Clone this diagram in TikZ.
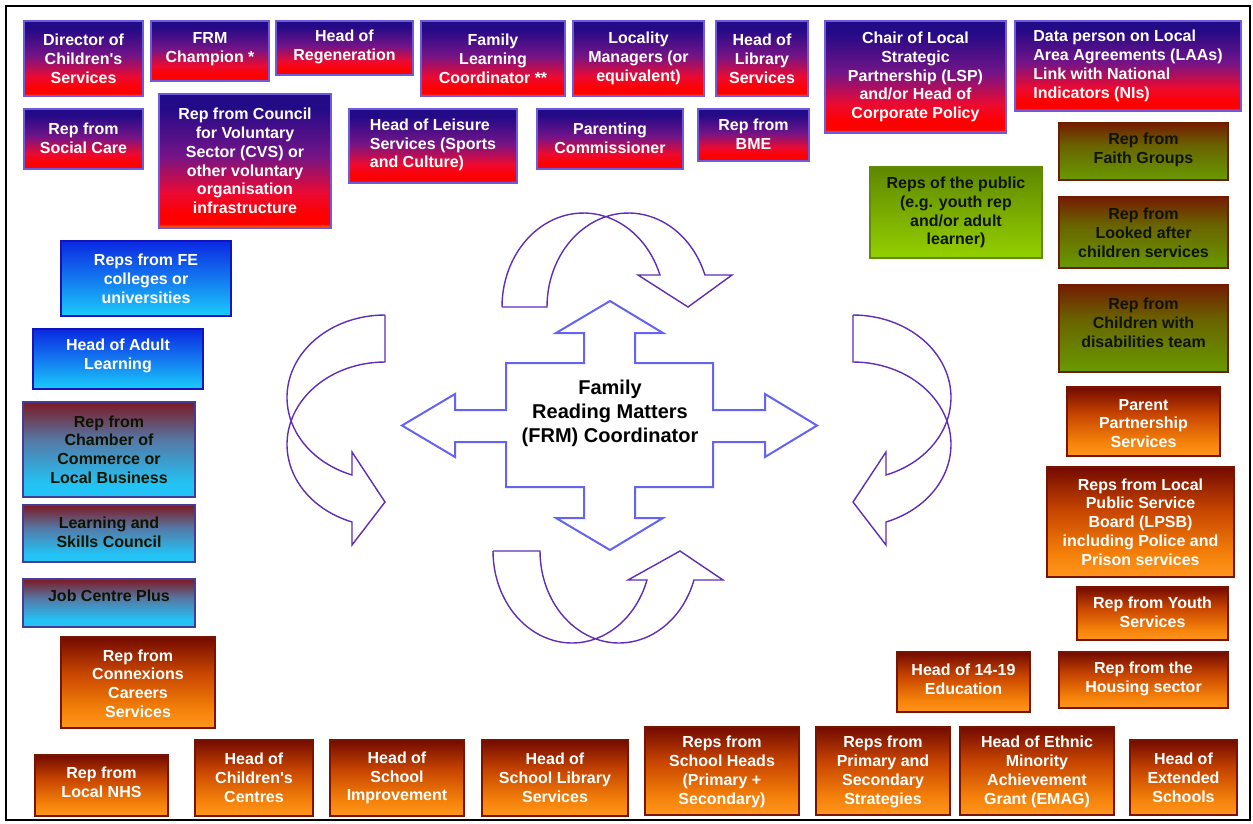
\documentclass[tikz,border=0pt]{standalone}
\usepackage{fontspec}
\newfontfamily\bxfont{Liberation Sans}
\definecolor{pTop}{RGB}{35,10,135}
\definecolor{pMid}{RGB}{115,20,135}
\definecolor{pRed}{RGB}{235,10,50}
\definecolor{pRedB}{RGB}{255,0,0}
\definecolor{pOr}{RGB}{255,150,0}
\definecolor{bTop}{RGB}{10,40,225}
\definecolor{bMid}{RGB}{20,120,240}
\definecolor{bBot}{RGB}{25,205,250}
\definecolor{cTop}{RGB}{125,25,35}
\definecolor{cMid}{RGB}{85,120,165}
\definecolor{cBot}{RGB}{35,195,245}
\definecolor{oTop}{RGB}{115,10,0}
\definecolor{oMid}{RGB}{200,70,0}
\definecolor{oLow}{RGB}{245,130,10}
\definecolor{oBot}{RGB}{255,150,30}
\definecolor{gTop}{RGB}{115,30,0}
\definecolor{gMid}{RGB}{105,100,0}
\definecolor{gBot}{RGB}{105,155,0}
\definecolor{puTop}{RGB}{95,135,0}
\definecolor{puBot}{RGB}{148,208,0}
\definecolor{pBorder}{RGB}{110,90,220}
\definecolor{bBorder}{RGB}{20,20,190}
\definecolor{cBorder}{RGB}{70,60,150}
\definecolor{oBorder}{RGB}{120,20,0}
\definecolor{gBorder}{RGB}{110,30,0}
\definecolor{puBorder}{RGB}{95,140,0}
\definecolor{dkText}{RGB}{15,20,0}
\definecolor{curveCol}{RGB}{95,45,185}
\definecolor{crossCol}{RGB}{100,100,240}
\pgfdeclareverticalshading{purpshade}{100bp}{color(0bp)=(pOr); color(25bp)=(pOr); color(26.5bp)=(pRedB); color(30bp)=(pRedB); color(38bp)=(pRed); color(52bp)=(pMid); color(70bp)=(pTop); color(100bp)=(pTop)}
\pgfdeclareverticalshading{blueshade}{100bp}{color(0bp)=(bBot); color(25bp)=(bBot); color(50bp)=(bMid); color(75bp)=(bTop); color(100bp)=(bTop)}
\pgfdeclareverticalshading{chamshade}{100bp}{color(0bp)=(cBot); color(25bp)=(cBot); color(32bp)=(cBot); color(55bp)=(cMid); color(75bp)=(cTop); color(100bp)=(cTop)}
\pgfdeclareverticalshading{orshade}{100bp}{color(0bp)=(oBot); color(25bp)=(oBot); color(35bp)=(oLow); color(55bp)=(oMid); color(75bp)=(oTop); color(100bp)=(oTop)}
\pgfdeclareverticalshading{grshade}{100bp}{color(0bp)=(gBot); color(25bp)=(gBot); color(55bp)=(gMid); color(75bp)=(gTop); color(100bp)=(gTop)}
\pgfdeclareverticalshading{pubshade}{100bp}{color(0bp)=(puBot); color(25bp)=(puBot); color(75bp)=(puTop); color(100bp)=(puTop)}
\tikzset{
  boxbase/.style={rectangle, inner sep=0pt, line width=1.2pt},
  pbox/.style={boxbase, shading=purpshade, draw=pBorder},
  bbox/.style={boxbase, shading=blueshade, draw=bBorder},
  cbox/.style={boxbase, shading=chamshade, draw=cBorder},
  obox/.style={boxbase, shading=orshade, draw=oBorder},
  gbox/.style={boxbase, shading=grshade, draw=gBorder},
  pubbox/.style={boxbase, shading=pubshade, draw=puBorder},
  txtbase/.style={inner sep=0pt, align=center, font=\bxfont\bfseries\fontsize{16}{18.8}\selectfont},
  wtxt/.style={txtbase, text=white},
  wltxt/.style={txtbase, text=white, align=left},
  dtxt/.style={txtbase, text=dkText},
  curvearrow/.style={draw=curveCol, line width=1.4pt, fill=white, line join=miter},
  crossarrow/.style={draw=crossCol, line width=2pt, fill=white, line join=miter},
  centertxt/.style={inner sep=0pt, align=center, text=black, font=\bxfont\bfseries\fontsize{20}{24}\selectfont}
}
% #1 box style, #2 text style, #3 name, #4 x1, #5 y1, #6 x2, #7 y2, #8 dy, #9 text
\newcommand{\mybox}[9]{%
  \node[#1, minimum width={#6-#4}, minimum height={#7-#5}] (#3) at ({(#4+#6)/2},{(#5+#7)/2}) {};
  \node[#2] (#3t) at ([yshift={-(#8)}]#3.center) {#9};}
\begin{document}
\begin{tikzpicture}[x=1pt,y=-1pt]
\useasboundingbox (0,0) rectangle (1253,823);
\fill[white] (0,0) rectangle (1253,823);
\draw[line width=2.5pt, black] (6,6) rectangle (1250,820);

% purple boxes
\mybox{pbox}{wtxt}{dir}{24}{21}{143}{96}{0}{Director of\\Children's\\Services}
\mybox{pbox}{wtxt}{frmc}{151}{21}{269}{81}{-2}{FRM\\Champion *}
\mybox{pbox}{wtxt}{regen}{276}{21}{413}{75}{-1}{Head of\\Regeneration}
\mybox{pbox}{wtxt}{flc}{421}{21}{565}{96}{0}{Family\\Learning\\Coordinator **}
\mybox{pbox}{wtxt}{loc}{573}{21}{704}{96}{0}{Locality\\Managers (or\\equivalent)}
\mybox{pbox}{wtxt}{lib}{716}{21}{808}{96}{0}{Head of\\Library\\Services}
\mybox{pbox}{wtxt}{lsp}{825}{21}{1006}{133}{0}{Chair of Local\\Strategic\\Partnership (LSP)\\and/or Head of\\Corporate Policy}
\mybox{pbox}{wltxt}{laa}{1015}{21}{1241}{111}{0}{Data person on Local\\Area Agreements (LAAs)\\Link with National\\Indicators (NIs)}
\mybox{pbox}{wtxt}{soc}{24}{109}{143}{169}{-1}{Rep from\\Social Care}
\mybox{pbox}{wtxt}{cvs}{159}{94}{331}{228}{0}{Rep from Council\\for Voluntary\\Sector (CVS) or\\other voluntary\\organisation\\infrastructure}
\mybox{pbox}{wltxt}{leis}{349}{109}{517}{183}{-1}{Head of Leisure\\Services (Sports\\and Culture)}
\mybox{pbox}{wtxt}{par}{537}{109}{683}{169}{-1}{Parenting\\Commissioner}
\mybox{pbox}{wtxt}{bme}{698}{109}{809}{161}{-1}{Rep from\\BME}

% green boxes
\mybox{gbox}{dtxt}{faith}{1059}{123}{1228}{180}{-2}{Rep from\\Faith Groups}
\mybox{pubbox}{dtxt}{public}{870}{167}{1042}{258}{0}{Reps of the public\\(e.g. youth rep\\and/or adult\\learner)}
\mybox{gbox}{dtxt}{lac}{1059}{197}{1228}{268}{0}{Rep from\\Looked after\\children services}
\mybox{gbox}{dtxt}{dis}{1059}{285}{1228}{372}{-6}{Rep from\\Children with\\disabilities team}

% blue boxes
\mybox{bbox}{wtxt}{fe}{61}{241}{231}{316}{0}{Reps from FE\\colleges or\\universities}
\mybox{bbox}{wtxt}{adult}{33}{329}{203}{389}{-3}{Head of Adult\\Learning}
\mybox{cbox}{dtxt}{cham}{23}{402}{195}{497}{0}{Rep from\\Chamber of\\Commerce or\\Local Business}
\mybox{cbox}{dtxt}{lsc}{23}{505}{195}{562}{-1}{Learning and\\Skills Council}
\mybox{cbox}{dtxt}{jcp}{23}{579}{195}{627}{-7}{Job Centre Plus}

% orange boxes
\mybox{obox}{wtxt}{cnx}{61}{637}{215}{728}{1}{Rep from\\Connexions\\Careers\\Services}
\mybox{obox}{wtxt}{nhs}{35}{755}{168}{816}{-3}{Rep from\\Local NHS}
\mybox{obox}{wtxt}{ccen}{195}{740}{313}{816}{0}{Head of\\Children's\\Centres}
\mybox{obox}{wtxt}{simp}{330}{740}{464}{816}{0}{Head of\\School\\Improvement}
\mybox{obox}{wtxt}{slib}{482}{740}{628}{816}{0}{Head of\\School Library\\Services}
\mybox{obox}{wtxt}{shead}{645}{727}{799}{815}{1}{Reps from\\School Heads\\(Primary +\\Secondary)}
\mybox{obox}{wtxt}{pss}{816}{727}{950}{815}{1}{Reps from\\Primary and\\Secondary\\Strategies}
\mybox{obox}{wtxt}{emag}{960}{727}{1114}{815}{1}{Head of Ethnic\\Minority\\Achievement\\Grant (EMAG)}
\mybox{obox}{wtxt}{ext}{1130}{740}{1237}{815}{0}{Head of\\Extended\\Schools}
\mybox{obox}{wtxt}{edu}{897}{652}{1030}{712}{-3}{Head of 14-19\\Education}
\mybox{obox}{wtxt}{hous}{1059}{652}{1228}{708}{-1}{Rep from the\\Housing sector}
\mybox{obox}{wtxt}{youth}{1077}{587}{1228}{640}{-1}{Rep from Youth\\Services}
\mybox{obox}{wtxt}{lpsb}{1047}{467}{1234}{577}{0}{Reps from Local\\Public Service\\Board (LPSB)\\including Police and\\Prison services}
\mybox{obox}{wtxt}{pps}{1067}{387}{1220}{456}{2}{Parent\\Partnership\\Services}

% curved arrows
\path[curvearrow] (502,307) -- (547,307)
  -- plot[domain=180:19.9, samples=50] ({628.4+81.4*cos(\x)},{307-94*sin(\x)})
  -- (732,275) -- (688,307) -- (638,275)
  -- plot[domain=19.9:180, samples=50] ({583.4+81.4*cos(\x)},{307-94*sin(\x)}) -- cycle;
\path[curvearrow] (493,551) -- (540,551)
  -- plot[domain=180:18.4, samples=50] ({619+79*cos(\x)},{551+92*sin(\x)})
  -- (723,580) -- (680,551) -- (628,580)
  -- plot[domain=18.4:180, samples=50] ({572+79*cos(\x)},{551+92*sin(\x)}) -- cycle;
\path[curvearrow] (385,315) -- (385,362)
  -- plot[domain=270:109.7, samples=50] ({385+98*cos(\x)},{444.4+82.4*sin(\x)})
  -- (352,545) -- (385,502) -- (352,452)
  -- plot[domain=109.7:270, samples=50] ({385+98*cos(\x)},{397.4+82.4*sin(\x)}) -- cycle;
\path[curvearrow] (853,315) -- (853,362)
  -- plot[domain=270:109.7, samples=50] ({853-98*cos(\x)},{444.4+82.4*sin(\x)})
  -- (886,545) -- (853,502) -- (886,452)
  -- plot[domain=109.7:270, samples=50] ({853-98*cos(\x)},{397.4+82.4*sin(\x)}) -- cycle;

% four-way arrow
\path[crossarrow] (610,301) -- (663,333) -- (635,333) -- (635,363) -- (713,363) -- (713,410)
  -- (765,410) -- (765,394) -- (817,425.5) -- (765,457) -- (765,442) -- (713,442)
  -- (713,487) -- (635,487) -- (635,518) -- (663,518) -- (610,550) -- (556,518)
  -- (584,518) -- (584,487) -- (506,487) -- (506,442) -- (455,442) -- (455,457)
  -- (402,425.5) -- (455,394) -- (455,410) -- (506,410) -- (506,363) -- (584,363)
  -- (584,333) -- (556,333) -- cycle;
\node[centertxt] (coord) at (610,413) {Family\\Reading Matters\\(FRM) Coordinator};
\end{tikzpicture}
\end{document}
